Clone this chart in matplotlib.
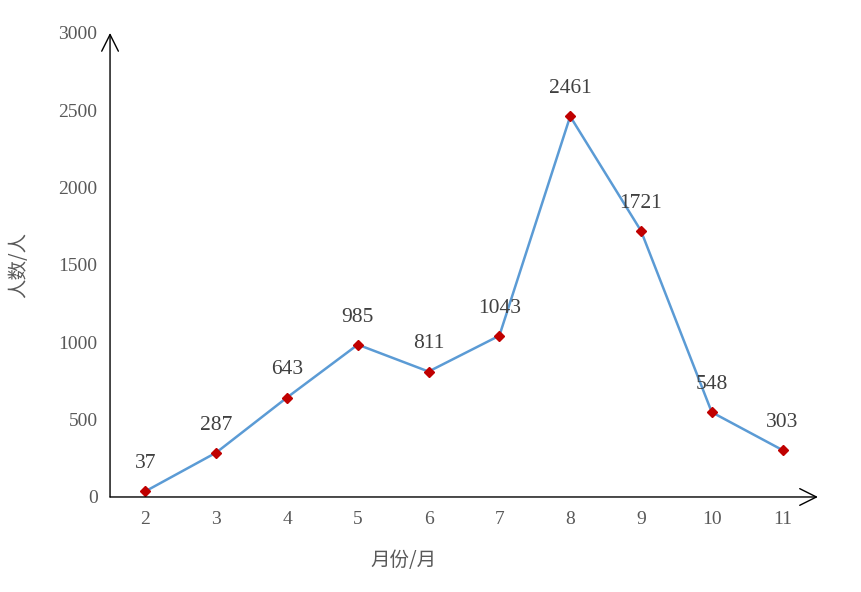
import matplotlib.pyplot as plt

plt.rcParams['font.family'] = ['Liberation Serif', 'Noto Sans CJK SC']

months = [2, 3, 4, 5, 6, 7, 8, 9, 10, 11]
people = [37, 287, 643, 985, 811, 1043, 2461, 1721, 548, 303]
y_ticks = [0, 500, 1000, 1500, 2000, 2500, 3000]

fig = plt.figure(figsize=(8.61, 5.92), dpi=100)
ax = fig.add_axes([0.1278, 0.1605, 0.8222, 0.7838])

ax.plot(months, people, color='#5B9BD5', linewidth=1.8, zorder=2)
ax.plot(months, people, linestyle='none', marker='D', markersize=5,
        color='#C00000', zorder=3)

for m, v in zip(months, people):
    ax.annotate(str(v), (m, v), xytext=(0, 13), textcoords='offset points',
                ha='center', va='bottom', fontsize=15.5, color='#404040')

ax.set_xlim(1.5, 11.5)
ax.set_ylim(0, 3000)
ax.set_xticks(months)
ax.set_yticks(y_ticks)
ax.tick_params(length=0, labelsize=14, labelcolor='#595959')
ax.tick_params(axis='y', pad=9)
ax.tick_params(axis='x', pad=10)

for s in ax.spines.values():
    s.set_visible(False)

# axes with open arrow heads
arrow = dict(arrowstyle='->', color='black', lw=1.0, mutation_scale=30,
             shrinkA=0, shrinkB=0)
ax.annotate('', xy=(1.0, 0), xytext=(0, 0), xycoords='axes fraction',
            arrowprops=arrow, annotation_clip=False)
ax.annotate('', xy=(0, 1.0), xytext=(0, 0), xycoords='axes fraction',
            arrowprops=arrow, annotation_clip=False)

ax.set_xlabel('月份/月', fontsize=14, color='#595959',
              family=['Noto Sans CJK SC'])
ax.set_ylabel('人数/人', fontsize=14, color='#595959',
              family=['Noto Sans CJK SC'])
ax.xaxis.set_label_coords(0.414, -0.115)
ax.yaxis.set_label_coords(-0.114, 0.5)

plt.savefig('out.png', dpi=100)
